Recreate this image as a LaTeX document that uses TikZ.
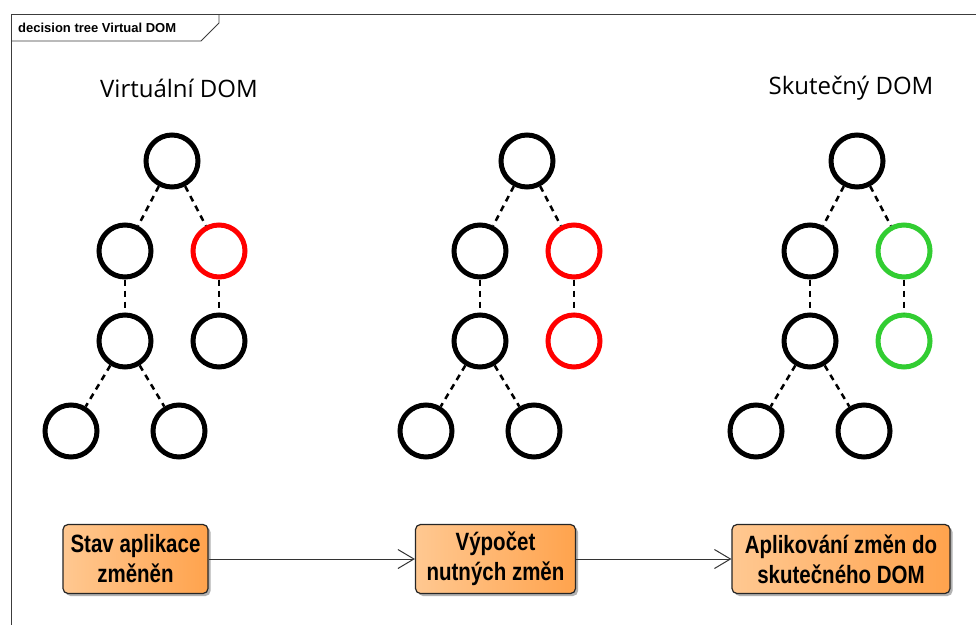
\documentclass[tikz,border=0pt]{standalone}
\usepackage{fontspec}
\setmainfont{Open Sans}
\newfontfamily\boxfont[FakeStretch=0.82]{Liberation Sans}
\newfontfamily\tabfont{Liberation Sans}
\usetikzlibrary{arrows.meta,shadows}
\definecolor{boxlight}{RGB}{255,200,145}
\definecolor{boxdark}{RGB}{255,163,77}
\definecolor{domred}{RGB}{255,0,0}
\definecolor{domgreen}{RGB}{50,205,50}
\definecolor{framegray}{RGB}{60,60,60}
\tikzset{
	dom/.style={circle,draw,solid,line width=5pt,minimum size=52pt,inner sep=0pt},
	changed/.style={draw=domred},
	applied/.style={draw=domgreen},
	action/.style={draw=black!85,line width=1.2pt,rounded corners=5pt,
		left color=boxlight,right color=boxdark,
		drop shadow={shadow xshift=2.5pt,shadow yshift=-2.5pt,fill=black!30,opacity=1},
		font=\boxfont\bfseries\fontsize{25}{30}\selectfont,
		align=center,inner sep=0pt,minimum height=69pt},
	flow/.style={draw=black!80,line width=1pt,-{Straight Barb[length=16pt,width=19pt,line width=1pt]}},
	title/.style={font=\fontsize{24}{28}\selectfont}
}
\begin{document}
\begin{tikzpicture}[x=1pt,y=-1pt,
	level distance=90pt,grow=down,
	edge from parent/.style={draw,line width=2.5pt,dash pattern=on 6pt off 5pt},
	level 1/.style={sibling distance=94pt},
	level 2/.style={sibling distance=94pt},
	level 3/.style={sibling distance=108pt}]
\useasboundingbox (0,0) rectangle (976,624);
\fill[white] (0,0) rectangle (976,624);

% frame
\draw[framegray,line width=0.8pt] (11,630) -- (11,14) -- (980,14);
\draw[framegray,line width=0.8pt] (219,14) -- (219,23) -- (201,41) -- (11,41);
\node[anchor=west,font=\tabfont\bfseries\fontsize{13}{15}\selectfont,inner sep=0pt] (tab) at (18,27.5) {decision tree Virtual DOM};

% titles
\node[title] (virtTitle) at (179,88) {Virtuální DOM};
\node[title] (realTitle) at (851,88) {Skutečný DOM};

% virtual DOM
\node[dom] (a0) at (172,161) {}
	child { node[dom] (a1) {}
		child { node[dom] (a3) {}
			child { node[dom] (a5) {}}
			child { node[dom] (a6) {}}
			}
		}
	child { node[dom,changed] (a2) {}
		child { node[dom] (a4) {}}
		};

% diff
\node[dom] (b0) at (527,161) {}
	child { node[dom] (b1) {}
		child { node[dom] (b3) {}
			child { node[dom] (b5) {}}
			child { node[dom] (b6) {}}
			}
		}
	child { node[dom,changed] (b2) {}
		child { node[dom,changed] (b4) {}}
		};

% real DOM
\node[dom] (c0) at (857,161) {}
	child { node[dom] (c1) {}
		child { node[dom] (c3) {}
			child { node[dom] (c5) {}}
			child { node[dom] (c6) {}}
			}
		}
	child { node[dom,applied] (c2) {}
		child { node[dom,applied] (c4) {}}
		};

% steps
\node[action,minimum width=145pt] (stateBox) at (135.5,559) {Stav aplikace\\změněn};
\node[action,minimum width=160pt] (diffBox) at (495.5,559) {Výpočet\\nutných změn};
\node[action,minimum width=218pt] (patchBox) at (841,559) {Aplikování změn do\\skutečného DOM};
\draw[flow] (stateBox) -- (diffBox);
\draw[flow] (diffBox) -- (patchBox);
\end{tikzpicture}
\end{document}
